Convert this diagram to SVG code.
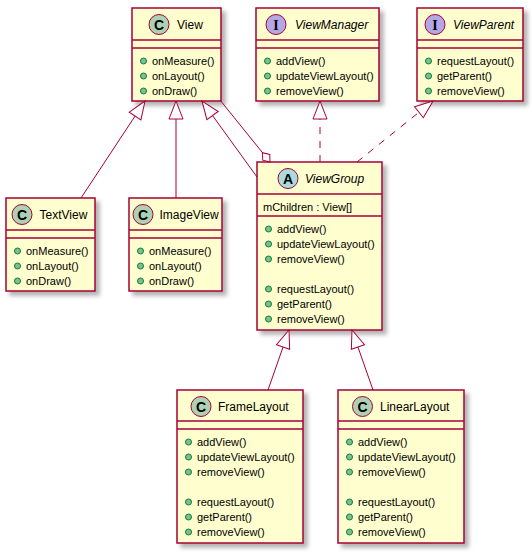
<svg xmlns="http://www.w3.org/2000/svg" width="532" height="552" viewBox="0 0 532 552">
<style>
.box{fill:#FEFECE;stroke:#A80036;stroke-width:1.5;filter:url(#sh)}
.sep{stroke:#A80036;stroke-width:1.5}
.name{font-family:"Liberation Sans",Arial,sans-serif;font-size:12px;fill:#000}
.it{font-style:italic}
.m{font-family:"Liberation Sans",Arial,sans-serif;font-size:11px;fill:#000}
.pub{fill:#84BE84;stroke:#038048;stroke-width:1}
.spot{stroke:#A80036;stroke-width:1}
.sC{fill:#ADD1B2}.sI{fill:#B4A7E5}.sA{fill:#A9DCDF}
.letter{font-family:"Liberation Sans",Arial,sans-serif;font-weight:bold;font-size:14px;text-anchor:middle;fill:#000}
.serif{font-family:"Liberation Serif","Times New Roman",serif}
.link{fill:none;stroke:#A80036;stroke-width:1}
.dash{stroke-dasharray:7,7}
</style>
<defs>
<filter id="sh" x="-10%" y="-10%" width="130%" height="130%">
<feDropShadow dx="4" dy="4" stdDeviation="2" flood-color="#000" flood-opacity="0.3"/>
</filter>
<marker id="ext" markerUnits="userSpaceOnUse" viewBox="-20 -10 22 20" markerWidth="22" markerHeight="20" refX="0" refY="0" orient="auto">
<path d="M0,0 L-18,-7 L-18,7 Z" fill="#FFFFFF" stroke="#A80036" stroke-width="1"/>
</marker>
<marker id="agg" markerUnits="userSpaceOnUse" viewBox="-14 -6 16 12" markerWidth="16" markerHeight="12" refX="0" refY="0" orient="auto">
<path d="M0,0 L-6,-4.5 L-12,0 L-6,4.5 Z" fill="#FFFFFF" stroke="#A80036" stroke-width="1"/>
</marker>
</defs>
<rect width="532" height="552" fill="#FFFFFF"/>

<g id="View">
<rect class="box" x="132" y="8" width="89" height="93"/>
<circle class="spot sC" cx="159" cy="24.5" r="10"/><text class="letter" x="159" y="29.5">C</text>
<text class="name" x="177" y="29">View</text>
<line class="sep" x1="132" y1="40" x2="221" y2="40"/>
<line class="sep" x1="132" y1="48" x2="221" y2="48"/>
<circle class="pub" cx="143.5" cy="61" r="3"/><text class="m" x="152" y="65">onMeasure()</text>
<circle class="pub" cx="143.5" cy="76" r="3"/><text class="m" x="152" y="80">onLayout()</text>
<circle class="pub" cx="143.5" cy="91" r="3"/><text class="m" x="152" y="95">onDraw()</text>
</g>

<g id="ViewManager">
<rect class="box" x="256" y="8" width="123" height="93"/>
<circle class="spot sI" cx="276" cy="24.5" r="10"/><text class="letter serif" x="276" y="29.5">I</text>
<text class="name it" x="295" y="29">ViewManager</text>
<line class="sep" x1="256" y1="40" x2="379" y2="40"/>
<line class="sep" x1="256" y1="48" x2="379" y2="48"/>
<circle class="pub" cx="267.5" cy="61" r="3"/><text class="m" x="276" y="65">addView()</text>
<circle class="pub" cx="267.5" cy="76" r="3"/><text class="m" x="276" y="80">updateViewLayout()</text>
<circle class="pub" cx="267.5" cy="91" r="3"/><text class="m" x="276" y="95">removeView()</text>
</g>

<g id="ViewParent">
<rect class="box" x="417" y="8" width="106" height="93"/>
<circle class="spot sI" cx="435" cy="24.5" r="10"/><text class="letter serif" x="435" y="29.5">I</text>
<text class="name it" x="453" y="29">ViewParent</text>
<line class="sep" x1="417" y1="40" x2="523" y2="40"/>
<line class="sep" x1="417" y1="48" x2="523" y2="48"/>
<circle class="pub" cx="428.5" cy="61" r="3"/><text class="m" x="437" y="65">requestLayout()</text>
<circle class="pub" cx="428.5" cy="76" r="3"/><text class="m" x="437" y="80">getParent()</text>
<circle class="pub" cx="428.5" cy="91" r="3"/><text class="m" x="437" y="95">removeView()</text>
</g>

<g id="TextView">
<rect class="box" x="6" y="198" width="89" height="93"/>
<circle class="spot sC" cx="22" cy="214.5" r="10"/><text class="letter" x="22" y="219.5">C</text>
<text class="name" x="39.5" y="219">TextView</text>
<line class="sep" x1="6" y1="230" x2="95" y2="230"/>
<line class="sep" x1="6" y1="238" x2="95" y2="238"/>
<circle class="pub" cx="17.5" cy="251" r="3"/><text class="m" x="26" y="255">onMeasure()</text>
<circle class="pub" cx="17.5" cy="266" r="3"/><text class="m" x="26" y="270">onLayout()</text>
<circle class="pub" cx="17.5" cy="281" r="3"/><text class="m" x="26" y="285">onDraw()</text>
</g>

<g id="ImageView">
<rect class="box" x="129" y="198" width="93" height="93"/>
<circle class="spot sC" cx="143" cy="214.5" r="10"/><text class="letter" x="143" y="219.5">C</text>
<text class="name" x="159.5" y="219">ImageView</text>
<line class="sep" x1="129" y1="230" x2="222" y2="230"/>
<line class="sep" x1="129" y1="238" x2="222" y2="238"/>
<circle class="pub" cx="140.5" cy="251" r="3"/><text class="m" x="149" y="255">onMeasure()</text>
<circle class="pub" cx="140.5" cy="266" r="3"/><text class="m" x="149" y="270">onLayout()</text>
<circle class="pub" cx="140.5" cy="281" r="3"/><text class="m" x="149" y="285">onDraw()</text>
</g>

<g id="ViewGroup">
<rect class="box" x="257" y="162" width="125" height="168"/>
<circle class="spot sA" cx="288" cy="178.5" r="10"/><text class="letter" x="288" y="183.5">A</text>
<text class="name it" x="305" y="183">ViewGroup</text>
<line class="sep" x1="257" y1="194" x2="382" y2="194"/>
<text class="m" x="263" y="211">mChildren : View[]</text>
<line class="sep" x1="257" y1="216" x2="382" y2="216"/>
<circle class="pub" cx="268.5" cy="229" r="3"/><text class="m" x="277" y="233">addView()</text>
<circle class="pub" cx="268.5" cy="244" r="3"/><text class="m" x="277" y="248">updateViewLayout()</text>
<circle class="pub" cx="268.5" cy="259" r="3"/><text class="m" x="277" y="263">removeView()</text>
<circle class="pub" cx="268.5" cy="289" r="3"/><text class="m" x="277" y="293">requestLayout()</text>
<circle class="pub" cx="268.5" cy="304" r="3"/><text class="m" x="277" y="308">getParent()</text>
<circle class="pub" cx="268.5" cy="319" r="3"/><text class="m" x="277" y="323">removeView()</text>
</g>

<g id="FrameLayout">
<rect class="box" x="177" y="390" width="126" height="153"/>
<circle class="spot sC" cx="201" cy="406.5" r="10"/><text class="letter" x="201" y="411.5">C</text>
<text class="name" x="218" y="411">FrameLayout</text>
<line class="sep" x1="177" y1="421" x2="303" y2="421"/>
<line class="sep" x1="177" y1="429" x2="303" y2="429"/>
<circle class="pub" cx="188.5" cy="442" r="3"/><text class="m" x="197" y="446">addView()</text>
<circle class="pub" cx="188.5" cy="457" r="3"/><text class="m" x="197" y="461">updateViewLayout()</text>
<circle class="pub" cx="188.5" cy="472" r="3"/><text class="m" x="197" y="476">removeView()</text>
<circle class="pub" cx="188.5" cy="502" r="3"/><text class="m" x="197" y="506">requestLayout()</text>
<circle class="pub" cx="188.5" cy="517" r="3"/><text class="m" x="197" y="521">getParent()</text>
<circle class="pub" cx="188.5" cy="532" r="3"/><text class="m" x="197" y="536">removeView()</text>
</g>

<g id="LinearLayout">
<rect class="box" x="338" y="390" width="126" height="153"/>
<circle class="spot sC" cx="362.5" cy="406.5" r="10"/><text class="letter" x="362.5" y="411.5">C</text>
<text class="name" x="380" y="411">LinearLayout</text>
<line class="sep" x1="338" y1="421" x2="464" y2="421"/>
<line class="sep" x1="338" y1="429" x2="464" y2="429"/>
<circle class="pub" cx="349.5" cy="442" r="3"/><text class="m" x="358" y="446">addView()</text>
<circle class="pub" cx="349.5" cy="457" r="3"/><text class="m" x="358" y="461">updateViewLayout()</text>
<circle class="pub" cx="349.5" cy="472" r="3"/><text class="m" x="358" y="476">removeView()</text>
<circle class="pub" cx="349.5" cy="502" r="3"/><text class="m" x="358" y="506">requestLayout()</text>
<circle class="pub" cx="349.5" cy="517" r="3"/><text class="m" x="358" y="521">getParent()</text>
<circle class="pub" cx="349.5" cy="532" r="3"/><text class="m" x="358" y="536">removeView()</text>
</g>

<g id="connectors">
<path class="link" d="M81,198 L145,101" marker-end="url(#ext)"/>
<path class="link" d="M176,198 L176,101" marker-end="url(#ext)"/>
<path class="link" d="M257,177 L202,101" marker-end="url(#ext)"/>
<path class="link" d="M220,100 L270,162" marker-end="url(#agg)"/>
<path class="link dash" d="M320,162 L320,101" marker-end="url(#ext)"/>
<path class="link dash" d="M357,162 L433,101" marker-end="url(#ext)"/>
<path class="link" d="M268,390 L289,330" marker-end="url(#ext)"/>
<path class="link" d="M373,390 L352,330" marker-end="url(#ext)"/>
</g>
</svg>
